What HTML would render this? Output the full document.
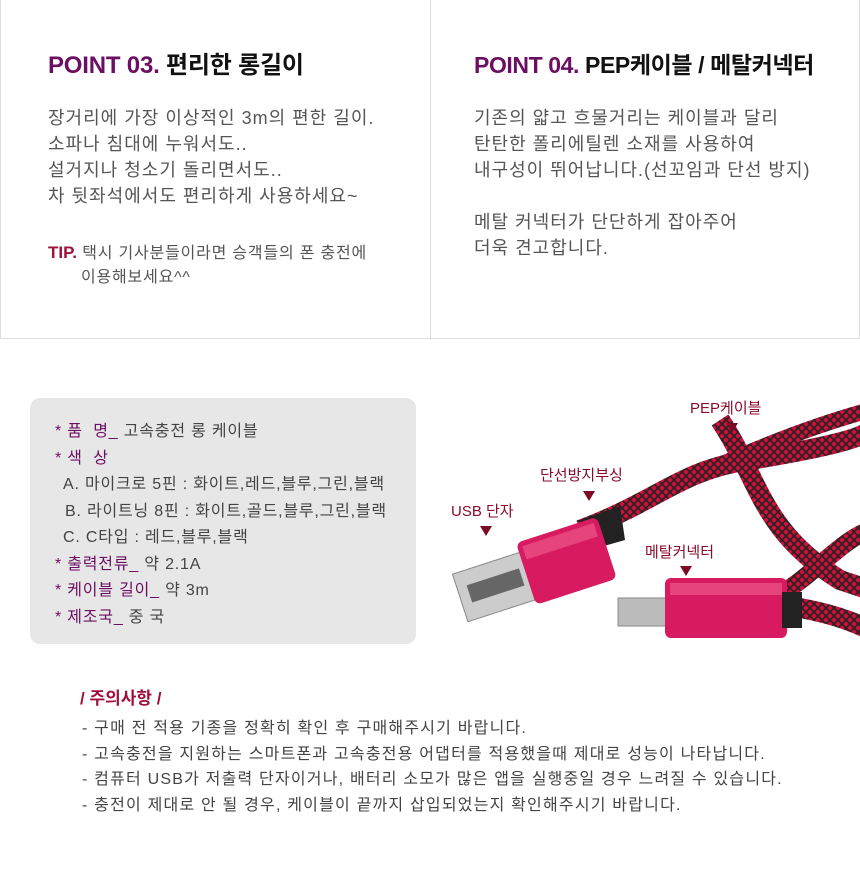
<!DOCTYPE html>
<html><head><meta charset="utf-8"><style>
*{margin:0;padding:0;box-sizing:border-box}
body{width:860px;height:874px;background:#fff;position:relative;overflow:hidden;font-family:"Liberation Sans","Noto Sans CJK KR",sans-serif;}
.a{position:absolute;white-space:nowrap}
.h{font-size:24px;font-weight:bold;color:#111;letter-spacing:-0.2px}
.h b{color:#6b0f62}
.t{font-size:18px;color:#555;line-height:26px;letter-spacing:1px}
.s{font-size:16px;color:#444;letter-spacing:0.8px}
.s i{font-style:normal;color:#6b0f62}
.lbl{font-size:15px;color:#8a0a2c;text-align:center}
.tri{width:0;height:0;border-left:6px solid transparent;border-right:6px solid transparent;border-top:10px solid #7a0a25;position:absolute}
</style></head><body>
<div class="a" style="left:0;top:0;width:860px;height:339px;border:1px solid #ddd;border-top:none"></div>
<div class="a" style="left:430px;top:0;width:1px;height:339px;background:#ddd"></div>

<div class="a h" style="left:48px;top:45px"><b>POINT 03.</b> 편리한 롱길이</div>
<div class="a t" style="left:48px;top:105px">장거리에 가장 이상적인 3m의 편한 길이.<br>소파나 침대에 누워서도..<br>설거지나 청소기 돌리면서도..<br>차 뒷좌석에서도 편리하게 사용하세요~</div>
<div class="a" style="left:48px;top:241px;font-size:16px;color:#555;line-height:24px;letter-spacing:0.8px"><b style="color:#a0103a;font-size:17px;letter-spacing:0">TIP.</b> 택시 기사분들이라면 승객들의 폰 충전에<br><span style="padding-left:33px">이용해보세요^^</span></div>

<div class="a h" style="left:474px;top:46px;font-size:23px;letter-spacing:-0.4px"><b>POINT 04.</b> PEP케이블 / 메탈커넥터</div>
<div class="a t" style="left:474px;top:105px">기존의 얇고 흐물거리는 케이블과 달리<br>탄탄한 폴리에틸렌 소재를 사용하여<br>내구성이 뛰어납니다.(선꼬임과 단선 방지)<br><br>메탈 커넥터가 단단하게 잡아주어<br>더욱 견고합니다.</div>

<div class="a" style="left:30px;top:398px;width:386px;height:246px;background:#e7e7e7;border-radius:10px"></div>
<div class="a s" style="left:55px;top:419px;line-height:26.5px">
<i>* 품&nbsp; 명_</i> 고속충전 롱 케이블<br>
<i>* 색&nbsp; 상</i><br>
<span style="padding-left:8px">A. 마이크로 5핀 : 화이트,레드,블루,그린,블랙</span><br>
<span style="padding-left:10px">B. 라이트닝 8핀 : 화이트,골드,블루,그린,블랙</span><br>
<span style="padding-left:8px">C. C타입 : 레드,블루,블랙</span><br>
<i>* 출력전류_</i> 약 2.1A<br>
<i>* 케이블 길이_</i> 약 3m<br>
<i>* 제조국_</i> 중 국</div>

<svg class="a" style="left:430px;top:380px" width="430" height="300">
<defs><pattern id="br" width="8" height="8" patternUnits="userSpaceOnUse"><rect width="8" height="8" fill="#d0103a"/><path d="M0 0L8 8M8 0L0 8" stroke="#222" stroke-width="1.6"/></pattern></defs>
<path d="M150 150 C230 120 250 90 320 80 C380 70 430 60 440 50" stroke="url(#br)" stroke-width="20" fill="none"/>
<path d="M290 40 C330 100 330 150 410 200 L440 210" stroke="url(#br)" stroke-width="20" fill="none"/>
<path d="M160 145 C240 110 330 60 440 30" stroke="url(#br)" stroke-width="16" fill="none"/>
<path d="M350 225 C390 230 420 240 440 250" stroke="url(#br)" stroke-width="20" fill="none"/>
<path d="M340 220 C380 200 410 160 440 150" stroke="url(#br)" stroke-width="18" fill="none"/>
<path d="M150 140 L190 126 L195 160 L160 170Z" fill="#222"/>
<g transform="rotate(-18 100 190)">
<rect x="25" y="170" width="75" height="50" fill="#ccc" stroke="#888"/>
<rect x="35" y="185" width="55" height="18" fill="#666"/>
<rect x="95" y="160" width="85" height="65" rx="6" fill="#d81a60"/>
<rect x="100" y="165" width="75" height="14" fill="#f06090" opacity=".6"/>
</g>
<rect x="188" y="218" width="48" height="28" fill="#bbb" stroke="#888"/>
<rect x="235" y="198" width="122" height="60" rx="6" fill="#d81a60"/>
<rect x="240" y="203" width="112" height="12" fill="#f06090" opacity=".6"/>
<rect x="352" y="212" width="20" height="36" fill="#222"/>
</svg>

<div class="a lbl" style="left:690px;top:397px">PEP케이블</div><div class="tri" style="left:726px;top:423px"></div>
<div class="a lbl" style="left:540px;top:464px">단선방지부싱</div><div class="tri" style="left:583px;top:491px"></div>
<div class="a lbl" style="left:451px;top:500px">USB 단자</div><div class="tri" style="left:480px;top:526px"></div>
<div class="a lbl" style="left:645px;top:541px">메탈커넥터</div><div class="tri" style="left:680px;top:566px"></div>

<div class="a" style="left:80px;top:684px;font-size:17px;font-weight:bold;color:#a0103a">/ 주의사항 /</div>
<div class="a s" style="left:82px;top:716px;line-height:25.5px;font-size:16px;letter-spacing:1.2px">
- 구매 전 적용 기종을 정확히 확인 후 구매해주시기 바랍니다.<br>
- 고속충전을 지원하는 스마트폰과 고속충전용 어댑터를 적용했을때 제대로 성능이 나타납니다.<br>
- 컴퓨터 USB가 저출력 단자이거나, 배터리 소모가 많은 앱을 실행중일 경우 느려질 수 있습니다.<br>
- 충전이 제대로 안 될 경우, 케이블이 끝까지 삽입되었는지 확인해주시기 바랍니다.</div>
</body></html>
